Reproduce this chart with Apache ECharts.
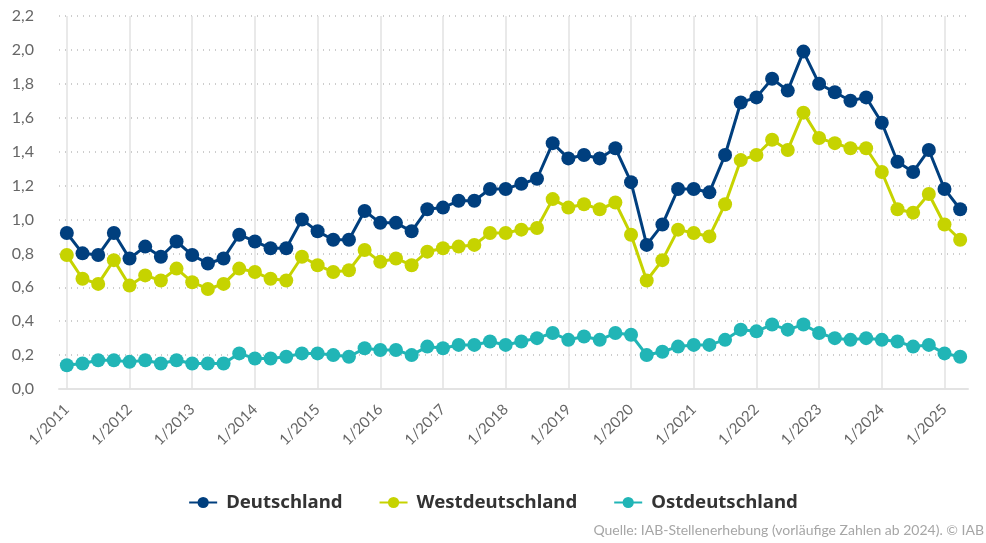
<!DOCTYPE html>
<html>
<head>
<meta charset="utf-8">
<script src="https://cdn.jsdelivr.net/npm/echarts@6/dist/echarts.min.js"></script>
<style>
  html, body { margin: 0; padding: 0; background: #fff; }
  #chart { width: 986px; height: 543px; }
</style>
</head>
<body>
<div id="chart"></div>
<script>
// Quarters 1/2011 .. 2/2025
const years = [2011, 2012, 2013, 2014, 2015, 2016, 2017, 2018, 2019, 2020, 2021, 2022, 2023, 2024, 2025];
const quarters = [1, 2, 3, 4];
const categories = [];
years.forEach(y => quarters.forEach(q => {
  if (y < 2025 || q <= 2) categories.push(q + '/' + y);
}));
const yearTicks = years.map(y => '1/' + y);

const deutschland = [
  0.92, 0.80, 0.79, 0.92, 0.77, 0.84, 0.78, 0.87, 0.79, 0.74, 0.77, 0.91,
  0.87, 0.83, 0.83, 1.00, 0.93, 0.88, 0.88, 1.05, 0.98, 0.98, 0.93, 1.06,
  1.07, 1.11, 1.11, 1.18, 1.18, 1.21, 1.24, 1.45, 1.36, 1.38, 1.36, 1.42,
  1.22, 0.85, 0.97, 1.18, 1.18, 1.16, 1.38, 1.69, 1.72, 1.83, 1.76, 1.99,
  1.80, 1.75, 1.70, 1.72, 1.57, 1.34, 1.28, 1.41, 1.18, 1.06
];
const westdeutschland = [
  0.79, 0.65, 0.62, 0.76, 0.61, 0.67, 0.64, 0.71, 0.63, 0.59, 0.62, 0.71,
  0.69, 0.65, 0.64, 0.78, 0.73, 0.69, 0.70, 0.82, 0.75, 0.77, 0.73, 0.81,
  0.83, 0.84, 0.85, 0.92, 0.92, 0.94, 0.95, 1.12, 1.07, 1.09, 1.06, 1.10,
  0.91, 0.64, 0.76, 0.94, 0.92, 0.90, 1.09, 1.35, 1.38, 1.47, 1.41, 1.63,
  1.48, 1.45, 1.42, 1.42, 1.28, 1.06, 1.04, 1.15, 0.97, 0.88
];
const ostdeutschland = [
  0.14, 0.15, 0.17, 0.17, 0.16, 0.17, 0.15, 0.17, 0.15, 0.15, 0.15, 0.21,
  0.18, 0.18, 0.19, 0.21, 0.21, 0.20, 0.19, 0.24, 0.23, 0.23, 0.20, 0.25,
  0.24, 0.26, 0.26, 0.28, 0.26, 0.28, 0.30, 0.33, 0.29, 0.31, 0.29, 0.33,
  0.32, 0.20, 0.22, 0.25, 0.26, 0.26, 0.29, 0.35, 0.34, 0.38, 0.35, 0.38,
  0.33, 0.30, 0.29, 0.30, 0.29, 0.28, 0.25, 0.26, 0.21, 0.19
];

const FONT = '"Source Sans Pro", Lato, "Noto Sans", sans-serif';
const LEGEND_FONT = '"Source Sans Pro", "Noto Sans", sans-serif';
const colors = { de: '#003f7e', west: '#c6d300', ost: '#21b5b6' };

const chart = echarts.init(document.getElementById('chart'));

function lineSeries(name, data, color, extra) {
  return Object.assign({
    name,
    type: 'line',
    data,
    symbol: 'circle',
    symbolSize: 14,
    showSymbol: true,
    showAllSymbol: true,
    lineStyle: { width: 3, color },
    itemStyle: { color },
    emphasis: { disabled: true },
  }, extra || {});
}

chart.setOption({
  animation: false,
  textStyle: { fontFamily: FONT },
  grid: { left: 59, width: 909, top: 16, bottom: 154 },
  legend: {
    bottom: 26,
    left: 'center',
    itemWidth: 28,
    itemHeight: 14,
    itemGap: 36,
    textStyle: {
      fontFamily: LEGEND_FONT,
      fontSize: 18.6,
      fontWeight: 'bold',
      color: '#333',
      padding: [0, 0, 0, 4],
    },
    data: ['Deutschland', 'Westdeutschland', 'Ostdeutschland'],
  },
  graphic: [{
    type: 'text',
    right: 2,
    bottom: 6,
    style: {
      text: 'Quelle: IAB-Stellenerhebung (vorläufige Zahlen ab 2024). © IAB',
      fill: '#a6a6a6',
      fontFamily: FONT,
      fontSize: 14,
    },
  }],
  xAxis: {
    type: 'category',
    data: categories,
    boundaryGap: true,
    axisLine: { lineStyle: { color: '#e3e3e3', width: 2 } },
    axisTick: { interval: 3, alignWithLabel: true, length: 16, lineStyle: { color: '#c9d5ee', width: 1 } },
    axisLabel: {
      interval: 3,
      rotate: 45,
      margin: 18,
      color: '#666',
      fontSize: 15,
      fontFamily: FONT,
    },
    splitLine: { show: false },
  },
  yAxis: {
    type: 'value',
    min: 0,
    max: 2.2,
    interval: 0.2,
    axisLine: { show: false },
    axisTick: { show: false },
    axisLabel: {
      color: '#666',
      fontSize: 16,
      margin: 25,
      fontFamily: FONT,
      formatter: v => v.toFixed(1).replace('.', ','),
    },
    splitLine: { lineStyle: { color: '#bdbdbd', type: [1, 5], width: 1.5 } },
  },
  series: [
    lineSeries('Deutschland', deutschland, colors.de, {
      z: 3,
      markLine: {
        silent: true,
        symbol: 'none',
        label: { show: false },
        z: 1,
        lineStyle: { color: '#e2e2e2', type: 'solid', width: 1.5 },
        data: yearTicks.map(t => ({ xAxis: t })),
      },
    }),
    lineSeries('Westdeutschland', westdeutschland, colors.west, { z: 2 }),
    lineSeries('Ostdeutschland', ostdeutschland, colors.ost, { z: 2 }),
  ],
});
</script>
</body>
</html>
